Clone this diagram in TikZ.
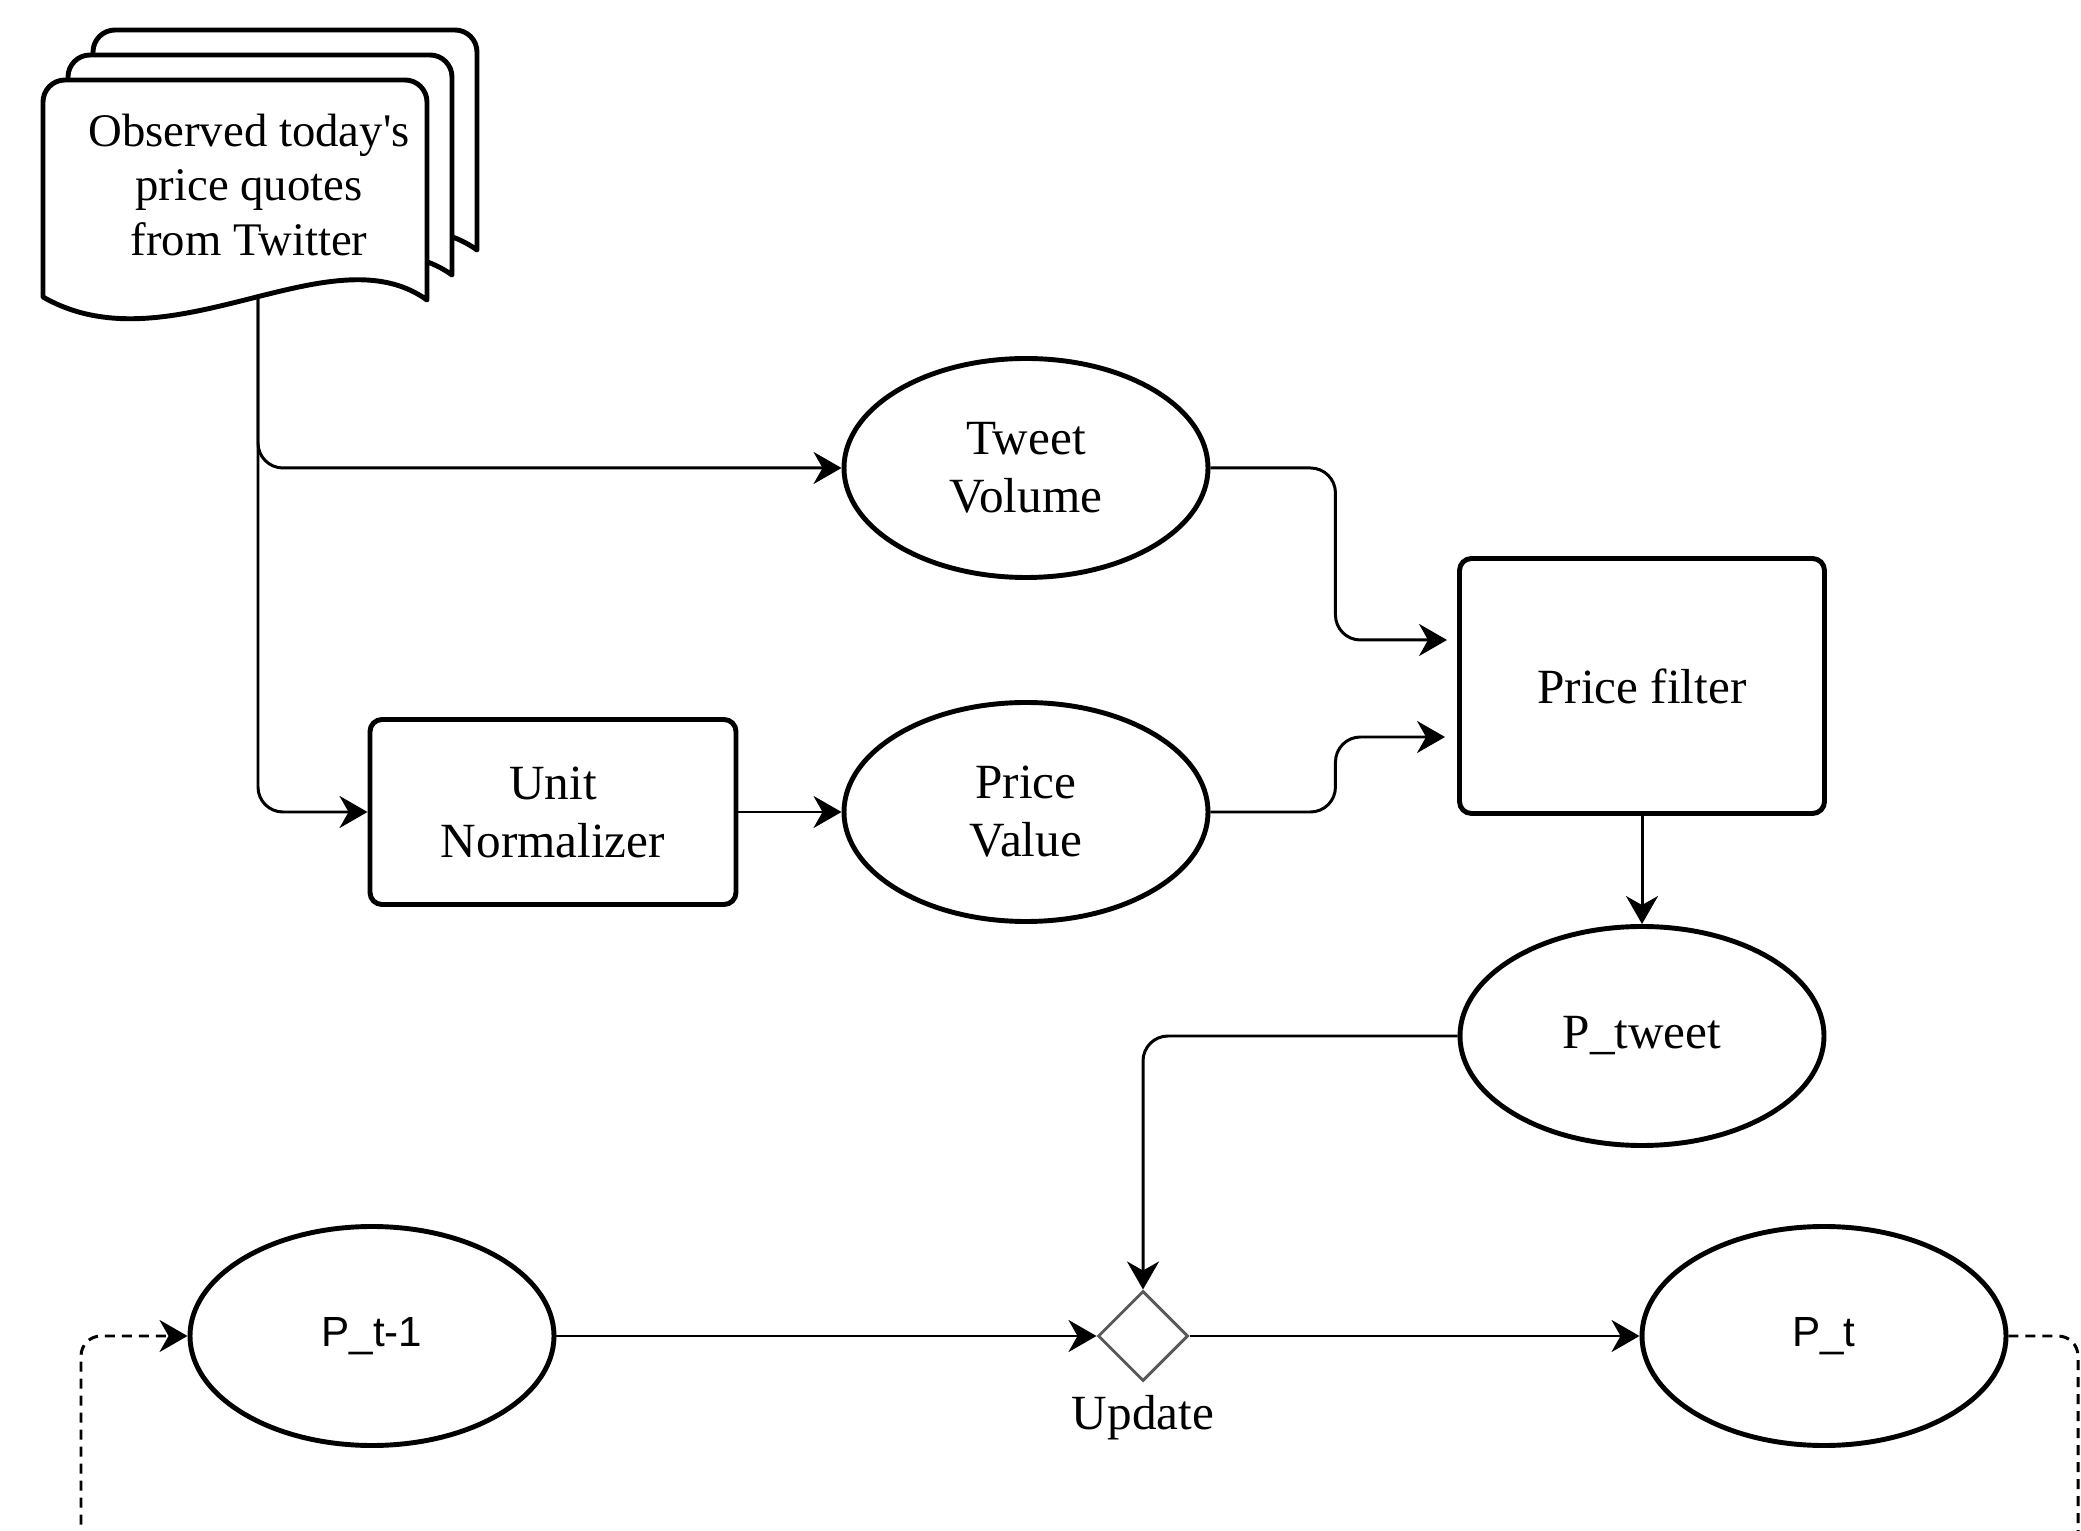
\documentclass[tikz,border=0pt]{standalone}
\usepackage{fontspec}
\setmainfont{Liberation Serif}
\newfontfamily\arialfont{Liberation Sans}
\usepackage{tikz}
\usetikzlibrary{arrows.meta,shapes.geometric,positioning}

\definecolor{rimgray}{HTML}{595959}
\newcommand{\mainsize}{\fontsize{14}{16.5}\selectfont}
\newcommand{\docsize}{\fontsize{13.3}{15.6}\selectfont}
\newcommand{\statesize}{\arialfont\fontsize{12}{14}\selectfont}

\tikzset{
	>={Stealth[length=2.8mm,width=3.2mm,inset=0.9mm]},
	page/.style={draw, line width=1.4pt, fill=white, line join=round},
	stage/.style={draw, line width=1.4pt, rounded corners=1.2mm, minimum width=3.66cm, align=center, font=\mainsize},
	quantity/.style={draw, ellipse, line width=1.4pt, minimum width=3.64cm, minimum height=2.19cm, inner sep=0pt, align=center, font=\mainsize},
	flow/.style={->, line width=0.85pt, rounded corners=2.5mm},
	loopback/.style={->, line width=0.85pt, dash pattern=on 1mm off 0.7mm, rounded corners=2mm}
}

\begin{document}
\begin{tikzpicture}
		\useasboundingbox (0,0) rectangle (20.81,-15.31);
		\clip (0,0) rectangle (20.81,-15.31);

		\foreach \o in {0.5,0.25,0} {
			\draw[page, shift={(\o,\o)}] (4.27,-3.00) .. controls (3.30,-2.30) and (1.70,-3.70) .. (0.43,-2.97) -- (0.43,-1.02) arc[start angle=180, end angle=90, radius=0.22] -- (4.05,-0.80) arc[start angle=90, end angle=0, radius=0.22] -- cycle;
		}

		\node[align=center, font=\docsize] (quotes) at (2.49,-1.85) {Observed today\textquotesingle s\\price quotes\\from Twitter};
		\coordinate (quotesout) at (2.58,-2.95);

		\node[quantity] (volume) at (10.26,-4.68) {Tweet\\Volume};
		\node[stage, minimum height=1.85cm] (normalizer) at (5.53,-8.12) {Unit\\Normalizer};
		\node[quantity] (value) at (10.26,-8.12) {Price\\Value};
		\node[stage, minimum height=2.55cm, minimum width=3.65cm] (filter) at (16.42,-6.86) {Price filter};
		\node[quantity] (ptweet) at (16.42,-10.36) {P\_tweet};
		\node[quantity, font=\statesize] (pprev) at (3.72,-13.36) {P\_t-1};
		\node[diamond, draw=rimgray, line width=0.85pt, minimum width=0.9cm, minimum height=0.9cm, inner sep=0pt] (update) at (11.43,-13.36) {};
		\node[font=\mainsize, below=0pt of update] (updatetext) {Update};
		\node[quantity, font=\statesize] (pnow) at (18.24,-13.36) {P\_t};
		\coordinate (loopright) at (20.78,-16.00);
		\coordinate (loopleft) at (0.81,-16.00);

		\draw[flow] (quotesout) |- (volume.west);
		\draw[flow] (quotesout) |- (normalizer.west);
		\draw[flow] (normalizer) -- (value);
		\draw[flow, shorten >=1mm] (volume.east) -- ++(1.25,0) |- ([yshift=0.46cm]filter.west);
		\draw[flow, shorten >=1.2mm] (value.east) -- ++(1.25,0) |- ([yshift=-0.51cm]filter.west);
		\draw[flow] (filter) -- (ptweet);
		\draw[flow] (ptweet.west) -| (update.north);
		\draw[flow] (pprev) -- (update);
		\draw[flow] (update) -- (pnow);
		\draw[loopback] (pnow.east) -| (loopright) -- (loopleft) |- (pprev.west);
	\end{tikzpicture}
\end{document}
